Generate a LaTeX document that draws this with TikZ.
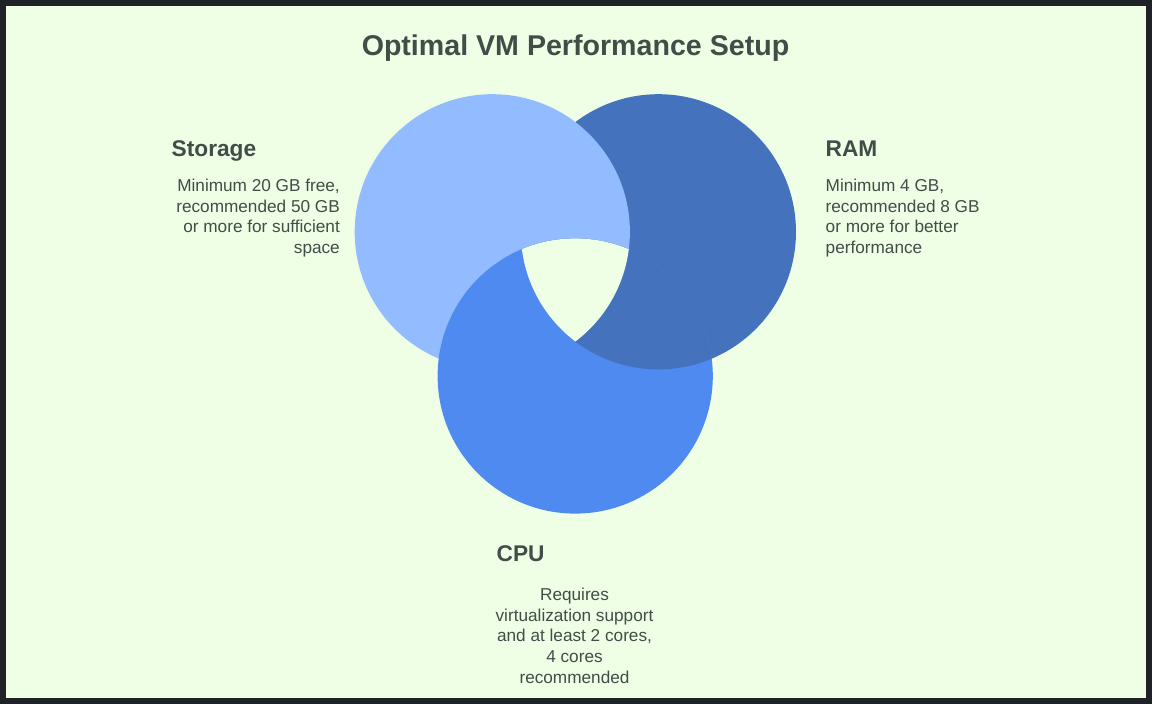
\documentclass[tikz,border=0pt]{standalone}
\usepackage{fontspec}
\setmainfont{Liberation Sans}
\definecolor{framecol}{HTML}{1F2226}
\definecolor{paper}{HTML}{EEFFE6}
\definecolor{inkcol}{HTML}{434C47}
\definecolor{storagecol}{HTML}{93BBFF}
\definecolor{ramcol}{HTML}{4472BD}
\definecolor{cpucol}{HTML}{4F8AF0}
\tikzset{
    titletext/.style={font=\bfseries\fontsize{28.6}{34}\selectfont, text=inkcol, inner sep=0pt},
    headtext/.style={font=\bfseries\fontsize{22.7}{26}\selectfont, text=inkcol, inner sep=0pt},
    bodytext/.style={font=\fontsize{17.2}{20.6}\selectfont, text=inkcol, inner sep=0pt},
}
\begin{document}
\begin{tikzpicture}[x=1pt, y=-1pt]
    \useasboundingbox (0,0) rectangle (1152,704);
    \fill[framecol] (0,0) rectangle (1152,704);
    \fill[paper] (6,6) rectangle (1146,698);
    \coordinate (s) at (492.3,231.8);
    \coordinate (r) at (658.4,231.8);
    \coordinate (c) at (575.2,376);
    \def\rad{137.6pt}
    \fill[ramcol] (r) circle (\rad);
    \fill[storagecol] (s) circle (\rad);
    \fill[cpucol] (c) circle (\rad);
    \begin{scope}
        \clip (c) circle (\rad);
        \fill[ramcol] (r) circle (\rad);
        \clip (r) circle (\rad);
        \fill[paper] (s) circle (\rad);
    \end{scope}
    \node[titletext, anchor=base] (title) at (575.5,55.2) {Optimal VM Performance Setup};
    \node[headtext, anchor=base west] (storagehead) at (171.5,156) {Storage};
    \node[bodytext, anchor=north east, align=right] (storagebody) at (340,179) {Minimum 20 GB free,\\recommended 50 GB\\or more for sufficient\\space};
    \node[headtext, anchor=base west] (ramhead) at (825.5,156) {RAM};
    \node[bodytext, anchor=north west, align=left] (rambody) at (825.5,179) {Minimum 4 GB,\\recommended 8 GB\\or more for better\\performance};
    \node[headtext, anchor=base west] (cpuhead) at (496.5,561) {CPU};
    \node[bodytext, anchor=north, align=center] (cpubody) at (574.5,588) {Requires\\virtualization support\\and at least 2 cores,\\4 cores\\recommended};
\end{tikzpicture}
\end{document}
